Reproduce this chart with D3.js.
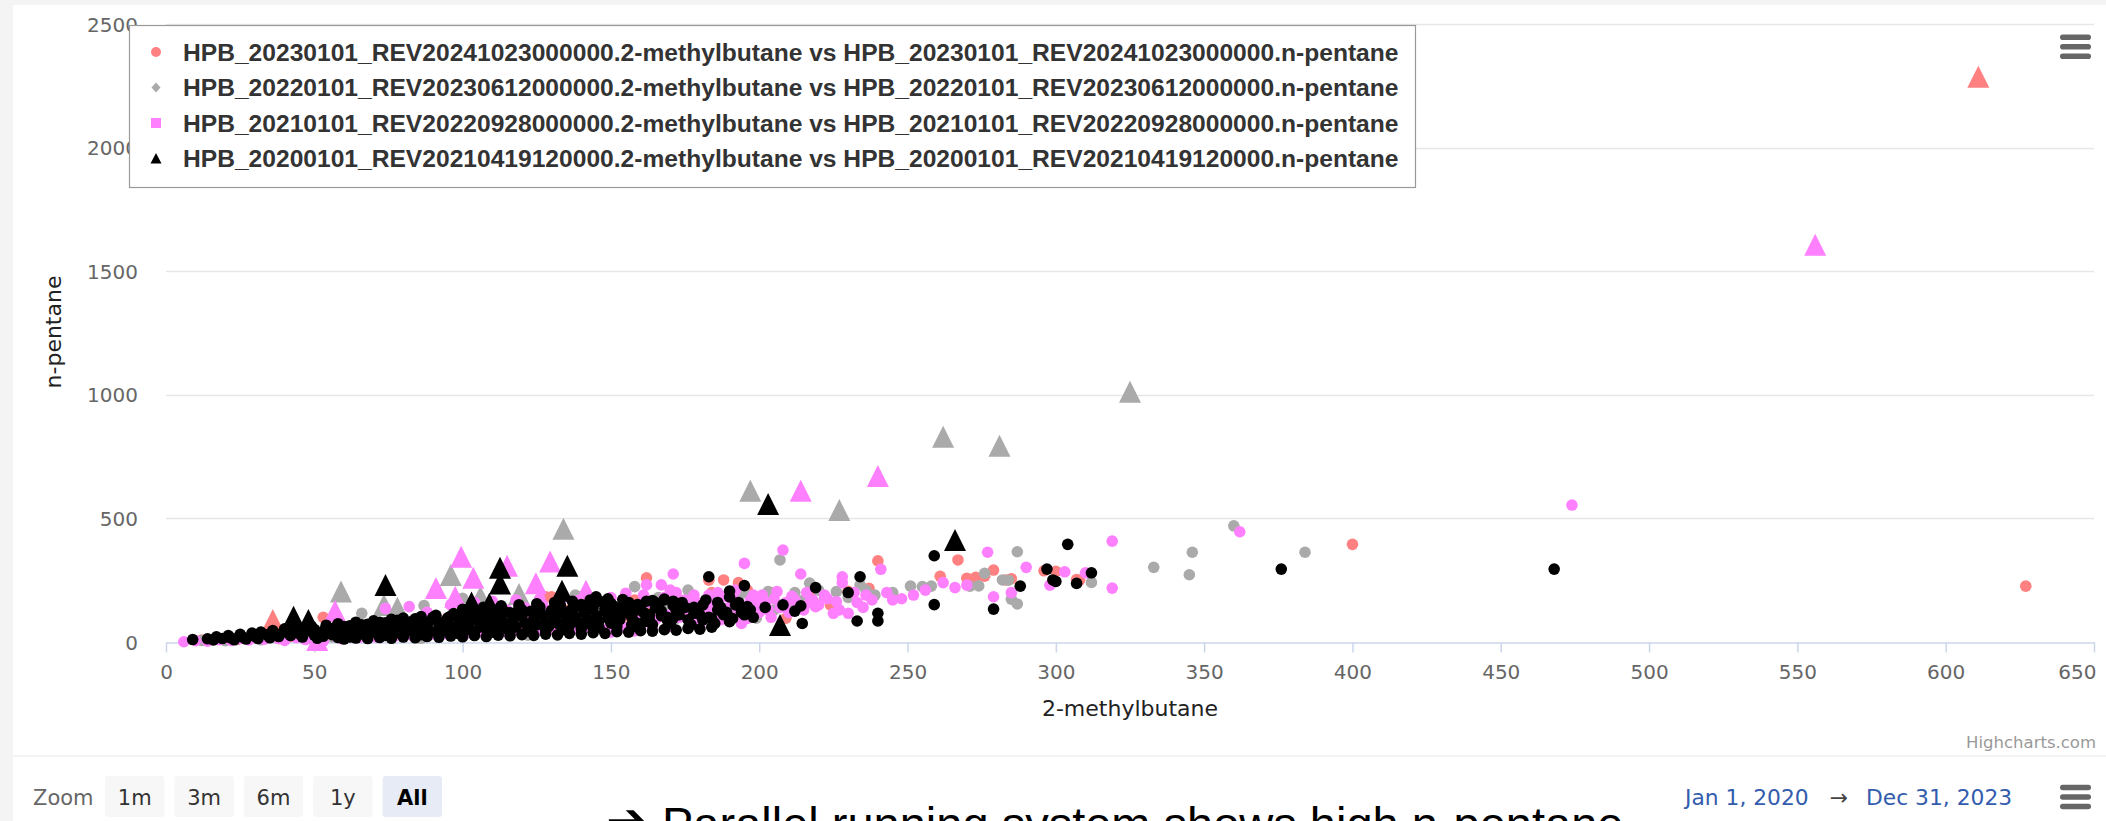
<!DOCTYPE html>
<html><head><meta charset="utf-8">
<script src="https://cdn.jsdelivr.net/npm/d3@7"></script>
<style>html,body{margin:0;padding:0;background:#f4f4f4;overflow:hidden}</style>
</head><body>
<svg id="c" width="2106" height="821"></svg>
<script>
// ---------------- DATA ----------------
const seriesNames = [
  "HPB_20230101_REV20241023000000.2-methylbutane vs HPB_20230101_REV20241023000000.n-pentane",
  "HPB_20220101_REV20230612000000.2-methylbutane vs HPB_20220101_REV20230612000000.n-pentane",
  "HPB_20210101_REV20220928000000.2-methylbutane vs HPB_20210101_REV20220928000000.n-pentane",
  "HPB_20200101_REV20210419120000.2-methylbutane vs HPB_20200101_REV20210419120000.n-pentane"
];
const xTicks = [0,50,100,150,200,250,300,350,400,450,500,550,600,650];
const yTicks = [0,500,1000,1500,2000,2500];
const xTitle = "2-methylbutane";
const yTitle = "n-pentane";
const zoomButtons = ["1m","3m","6m","1y","All"];
const rangeFrom = "Jan 1, 2020", rangeTo = "Dec 31, 2023";
const caption = "Parallel running system shows high n-pentane";

// 2023 series (salmon)
const s2023Circles = [[12,8],[18,12],[24,10],[30,18],[34,25],[38,14],[42,22],[46,30],[48,18],[53,100],[54,30],[58,40],[60,26],[64,48],[66,38],[70,55],[72,34],[76,62],[78,46],[82,70],[84,40],[88,76],[90,56],[94,85],[96,50],[100,90],[102,66],[106,98],[108,60],[112,105],[114,78],[118,112],[120,70],[124,120],[126,90],[128,183],[130,183],[132,82],[136,130],[138,100],[142,140],[144,95],[148,150],[150,115],[156,105],[158,170],[162,260],[164,145],[168,125],[172,185],[174,140],[180,150],[183,250],[184,200],[186,165],[188,251],[190,120],[193,240],[196,210],[198,180],[204,200],[209,96],[212,160],[217,190],[224,150],[230,205],[237,217],[240,328],[245,183],[261,266],[267,332],[270,258],[273,262],[276,266],[279,291],[283,251],[285,256],[296,288],[300,286],[307,253],[308,250],[400,395],[627,226]];
const s2023Triangles = [[36,89],[611,2287]];

// 2022 series (grey)
const s2022Circles = [[12,6],[16,10],[20,5],[24,12],[28,16],[32,9],[36,20],[40,13],[44,26],[48,16],[52,32],[56,20],[60,38],[64,24],[66,116],[68,44],[72,28],[76,52],[80,32],[84,58],[86,15],[87,147],[88,36],[92,66],[96,40],[100,177],[100,74],[104,44],[108,82],[112,48],[116,90],[120,52],[122,28],[124,98],[128,56],[132,40],[132,106],[136,60],[138,190],[139,183],[140,114],[144,64],[148,122],[150,90],[152,68],[155,55],[155,130],[158,224],[160,130],[162,110],[164,80],[166,180],[168,150],[170,140],[172,95],[175,110],[176,210],[178,170],[180,120],[182,140],[184,165],[186,190],[188,100],[190,132],[192,150],[193,170],[195,200],[196,120],[199,96],[200,170],[203,204],[205,130],[207,332],[210,150],[212,200],[215,170],[217,238],[220,210],[222,180],[226,204],[230,180],[234,231],[236,210],[239,190],[245,200],[251,226],[255,224],[258,226],[271,226],[274,227],[276,278],[282,251],[284,250],[285,173],[287,365],[287,154],[312,241],[333,302],[345,272],[346,363],[360,470],[384,363]];
const s2022Triangles = [[59,204],[73.5,150],[78,139],[96,271],[106,183],[119,194],[134,458],[197,612],[227,534],[262,830],[281,794],[325,1012]];

// 2021 series (magenta)
const s2021Circles = [[6,1],[10,5],[14,3],[18,9],[22,6],[25,14],[28,8],[30,20],[33,11],[36,26],[38,14],[40,6],[42,30],[44,18],[47,10],[49,36],[51,22],[53,3],[55,42],[57,26],[59,14],[61,48],[63,30],[65,18],[67,56],[69,34],[71,20],[73,62],[74,136],[75,40],[77,24],[79,70],[81,44],[82,143],[83,26],[85,78],[87,50],[88,120],[89,30],[91,88],[93,56],[95,32],[96,150],[97,96],[99,60],[101,34],[103,108],[104,160],[105,66],[107,38],[109,118],[110,165],[111,72],[113,40],[115,128],[117,78],[118,170],[119,44],[121,138],[123,84],[125,46],[126,175],[127,150],[129,90],[131,50],[133,160],[134,185],[135,96],[137,52],[139,168],[141,104],[143,56],[145,175],[147,110],[148,49],[150,180],[150,40],[152,120],[153,95],[154,60],[155,197],[156,150],[157,140],[158,45],[159,70],[160,120],[161,190],[162,231],[163,160],[164,55],[165,90],[166,140],[167,231],[168,180],[169,60],[170,110],[170,210],[171,275],[172,200],[173,100],[174,140],[175,170],[176,130],[177,80],[178,190],[179,160],[180,70],[181,120],[182,150],[183,190],[184,110],[185,150],[186,200],[187,90],[188,183],[189,130],[190,140],[191,160],[192,165],[192,210],[193,110],[194,75],[195,318],[195,140],[196,95],[197,170],[198,190],[199,150],[200,120],[201,190],[202,160],[203,130],[204,100],[205,175],[206,204],[207,140],[208,372],[209,160],[210,120],[211,185],[212,170],[213,150],[214,275],[215,130],[216,200],[217,160],[218,170],[219,143],[220,150],[222,190],[223,175],[225,116],[226,163],[227,130],[228,264],[228,240],[230,116],[232,200],[233,160],[235,140],[236,190],[238,170],[241,294],[243,200],[245,170],[248,175],[252,190],[256,210],[262,240],[266,220],[270,230],[277,363],[279,183],[285,200],[290,302],[298,230],[303,284],[310,280],[319,408],[319,218],[362,446],[474,554]];
const s2021Triangles = [[51,8],[57,125],[91,218],[97.5,183],[99.5,345],[103.6,260],[115,308],[124.7,238],[129.5,326],[141.6,207],[214,612],[240,672],[556,1607]];

// 2020 series (black)
const s2020Circles = [[9,10],[14,13],[16,8],[17,21],[19,14],[21,26],[22,16],[23,9],[25,31],[26,19],[27,12],[29,36],[30,23],[31,14],[32,40],[34,29],[35,17],[36,46],[37,33],[38,22],[40,53],[41,37],[42,26],[43,48],[44,60],[45,33],[46,20],[47,42],[49,64],[50,28],[50,51],[51,15],[52,37],[53,23],[53,44],[54,68],[55,45],[56,30],[56,52],[57,58],[58,74],[58,18],[59,39],[60,26],[60,62],[60,12],[61,50],[62,66],[62,20],[63,34],[64,80],[64,45],[64,16],[65,56],[66,43],[66,70],[67,29],[68,72],[68,24],[68,14],[69,49],[70,86],[70,52],[71,37],[72,61],[72,80],[72,18],[73,31],[74,78],[74,26],[75,53],[76,92],[76,62],[76,15],[77,41],[78,67],[78,88],[79,35],[80,97],[80,28],[80,20],[81,58],[82,46],[82,72],[83,84],[84,38],[84,94],[84,17],[85,71],[86,103],[86,30],[87,51],[88,63],[88,80],[88,22],[89,42],[90,89],[90,100],[91,108],[92,56],[92,34],[92,19],[93,75],[94,45],[94,84],[95,98],[96,64],[96,105],[96,24],[97,115],[98,49],[98,36],[99,83],[100,59],[100,94],[100,132],[100,21],[101,122],[102,71],[102,112],[103,47],[104,101],[104,38],[104,26],[105,87],[106,61],[106,100],[107,127],[107,140],[108,53],[108,118],[108,22],[109,79],[110,110],[110,40],[111,67],[112,132],[112,108],[112,28],[113,95],[113,146],[114,56],[114,124],[115,73],[116,118],[116,42],[116,25],[117,89],[118,61],[118,112],[119,137],[119,150],[120,104],[120,130],[120,30],[121,77],[122,59],[122,44],[123,124],[124,93],[124,116],[124,27],[125,69],[125,155],[126,142],[126,134],[127,109],[128,81],[128,46],[128,32],[129,63],[130,128],[130,120],[131,97],[131,160],[132,75],[132,138],[132,29],[133,147],[134,114],[134,50],[135,87],[136,67],[136,124],[136,35],[137,132],[137,165],[138,101],[138,142],[139,79],[140,152],[140,54],[140,32],[141,119],[142,91],[142,130],[143,71],[143,170],[144,138],[144,150],[144,38],[145,107],[146,85],[146,58],[147,162],[148,125],[148,136],[148,35],[149,97],[149,175],[150,76],[150,156],[151,144],[152,112],[152,62],[152,42],[152,100],[153,90],[154,172],[154,140],[155,118],[156,131],[156,160],[156,40],[157,102],[157,70],[158,82],[158,64],[159,152],[159,130],[160,146],[160,46],[161,120],[161,80],[162,94],[162,165],[163,110],[164,168],[164,70],[164,44],[165,138],[165,160],[166,150],[167,106],[167,125],[168,170],[168,50],[169,88],[169,100],[170,75],[171,148],[171,165],[172,126],[172,48],[173,110],[174,160],[175,140],[176,90],[176,55],[177,70],[178,140],[179,120],[180,110],[180,52],[181,150],[182,170],[183,100],[184,95],[184,60],[185,75],[186,130],[187,140],[188,110],[189,120],[191,95],[192,150],[193,160],[194,120],[195,110],[197,130],[198,100],[202,140],
  [145,183],[151,129],[156,143],[163,89],[168,174],[171,96],[178,116],[181,89],[183,264],[186,160],[190,82],[190,182],[190,206],[195,228],[196,143],[208,150],[212,125],[214,146],[214.5,75],[219,220],[230,200],[233,85],[234,264],[240,116],[240,85],[259,349],[259,151],[279,133],[288,226],[297,295],[299,251],[300,245],[304,395],[307,237],[312,280],[376,295],[468,295]];
const s2020Triangles = [[43,102],[48,89],[74,231],[103,160],[109,155],[112.6,237],[112.6,300],[133.5,207],[135.3,308],[203,558],[207,69],[266,413]];

// ---------------- STYLE ----------------
const colors = ["#ff8080","#aaaaaa","#ff80ff","#000000"];
const circleSets = [s2023Circles, s2022Circles, s2021Circles, s2020Circles];
const triSets = [s2023Triangles, s2022Triangles, s2021Triangles, s2020Triangles];

const W = 2106, H = 821;
const svg = d3.select("#c");
const FONT = "'DejaVu Sans', sans-serif";

svg.append("rect").attr("x",13).attr("y",5).attr("width",W-13).attr("height",H-5).attr("fill","#fff");
svg.append("rect").attr("x",13).attr("y",755).attr("width",W-13).attr("height",2).attr("fill","#f3f3f3");

const x = d3.scaleLinear().domain([0,650]).range([166,2094]);
const y = d3.scaleLinear().domain([0,2500]).range([642,24]);

// grid
svg.append("g").selectAll("line").data(yTicks.filter(d=>d>0)).join("line")
  .attr("x1",166).attr("x2",2094)
  .attr("y1",d=>Math.round(y(d))+0.5).attr("y2",d=>Math.round(y(d))+0.5)
  .attr("stroke","#e6e6e6").attr("stroke-width",1.5);

// y labels
svg.append("g").selectAll("text").data(yTicks).join("text")
  .attr("x",138).attr("y",d=>y(d)+7.5)
  .attr("text-anchor","end").attr("font-family",FONT).attr("font-size",20).attr("fill","#666")
  .text(d=>d);

// x axis
const xAxis = d3.axisBottom(x).tickValues(xTicks).tickSize(10).tickSizeOuter(0).tickPadding(12).tickFormat(d=>d);
const gx = svg.append("g").attr("transform","translate(0,642.5)").call(xAxis);
gx.select(".domain").attr("stroke","#ccd6eb").attr("stroke-width",1.5);
gx.selectAll(".tick line").attr("stroke","#ccd6eb").attr("stroke-width",1.5);
gx.selectAll(".tick text").attr("font-family",FONT).attr("font-size",20).attr("fill","#666");
// keep last label inside the chart, as the original does
gx.selectAll(".tick text").filter(d=>d===xTicks[xTicks.length-1]).attr("text-anchor","end").attr("x",2);

// axis titles
svg.append("text").attr("x",1130).attr("y",716).attr("text-anchor","middle")
  .attr("font-family",FONT).attr("font-size",22).attr("fill","#222").text(xTitle);
svg.append("text").attr("transform","translate(61,332) rotate(-90)").attr("text-anchor","middle")
  .attr("font-family",FONT).attr("font-size",22).attr("fill","#222").text(yTitle);

// points
const R = 5.8, T = 11;
circleSets.forEach((set,i)=>{
  const g = svg.append("g");
  g.selectAll("circle").data(set).join("circle")
    .attr("cx",d=>x(d[0])).attr("cy",d=>y(d[1])).attr("r",R).attr("fill",colors[i]);
  g.selectAll("path").data(triSets[i]).join("path")
    .attr("d",d=>{const cx=x(d[0]), cy=y(d[1]); return `M${cx},${cy-T}L${cx+T},${cy+T}L${cx-T},${cy+T}Z`;})
    .attr("fill",colors[i]);
});

// legend
const lg = svg.append("g");
lg.append("rect").attr("x",129.5).attr("y",25.5).attr("width",1286).attr("height",162)
  .attr("fill","#fff").attr("stroke","#999").attr("stroke-width",1.2);
const rowY = [52,87.5,123,158.5];
const symbols = [
  (cx,cy)=>`M${cx-5},${cy}a5,5 0 1,0 10,0a5,5 0 1,0 -10,0Z`,
  (cx,cy)=>`M${cx},${cy-5}L${cx+4.5},${cy}L${cx},${cy+5}L${cx-4.5},${cy}Z`,
  (cx,cy)=>`M${cx-5},${cy-5}h10v10h-10Z`,
  (cx,cy)=>`M${cx},${cy-5.5}L${cx+5.5},${cy+5}L${cx-5.5},${cy+5}Z`
];
seriesNames.forEach((n,i)=>{
  lg.append("path").attr("d",symbols[i](156,rowY[i])).attr("fill",colors[i]);
  lg.append("text").attr("x",183).attr("y",rowY[i]+8.5)
    .attr("font-family","'Liberation Sans', Arial, sans-serif").attr("font-weight","bold")
    .attr("font-size",24.6).attr("fill","#333").text(n);
});

// hamburger menus
function burger(x0, yc){
  const g = svg.append("g");
  [-9.5,0,9.5].forEach(o=>g.append("rect").attr("x",x0).attr("y",yc+o-2.8).attr("width",31).attr("height",5.6).attr("rx",2.8).attr("fill","#666"));
}
burger(2060, 46.7);
burger(2060, 797);

// credits
svg.append("text").attr("x",2096).attr("y",748).attr("text-anchor","end")
  .attr("font-family",FONT).attr("font-size",16.5).attr("fill","#999").text("Highcharts.com");

// range selector
svg.append("text").attr("x",33).attr("y",805).attr("font-family",FONT).attr("font-size",21).attr("fill","#666").text("Zoom");
zoomButtons.forEach((b,i)=>{
  const bx = 105 + i*69.4;
  const sel = b==="All";
  svg.append("rect").attr("x",bx).attr("y",776).attr("width",59.4).attr("height",41).attr("rx",3)
    .attr("fill", sel ? "#e6ebf5" : "#f7f7f7");
  svg.append("text").attr("x",bx+29.7).attr("y",805).attr("text-anchor","middle")
    .attr("font-family",FONT).attr("font-size",21).attr("font-weight",sel?"bold":"normal")
    .attr("fill", sel ? "#000" : "#333").text(b);
});
svg.append("text").attr("x",1685).attr("y",805).attr("font-family",FONT).attr("font-size",21.8).attr("fill","#335cad").text(rangeFrom);
svg.append("text").attr("x",1839).attr("y",805).attr("text-anchor","middle").attr("font-family",FONT).attr("font-size",21.8).attr("fill","#444").text("\u2192");
svg.append("text").attr("x",1866).attr("y",805).attr("font-family",FONT).attr("font-size",21.8).attr("fill","#335cad").text(rangeTo);

// caption (cut off at bottom edge, as in the original screenshot)
svg.append("text").attr("x",606).attr("y",838).attr("font-family","'DejaVu Sans', sans-serif").attr("font-size",50).attr("fill","#000").text("\u2794");
svg.append("text").attr("x",662).attr("y",840).attr("font-family","'Liberation Sans', Arial, sans-serif").attr("font-size",47).attr("fill","#000").text(caption);
</script></body></html>
